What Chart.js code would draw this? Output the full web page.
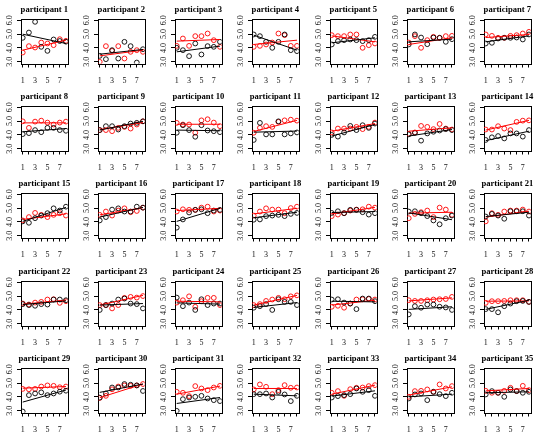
<!DOCTYPE html>
<html><head><meta charset="utf-8">
<script src="https://cdn.jsdelivr.net/npm/chart.js@4"></script>
<style>
html,body{margin:0;padding:0;background:#fff;width:540px;height:435px;overflow:hidden}
#wrap{position:relative;width:540px;height:435px}
#wrap canvas{position:absolute}
</style></head><body><div id="wrap"></div>
<script>
const participants = ['participant 1','participant 2','participant 3','participant 4','participant 5','participant 6','participant 7',
'participant 8','participant 9','participant 10','participant 11','participant 12','participant 13','participant 14',
'participant 15','participant 16','participant 17','participant 18','participant 19','participant 20','participant 21',
'participant 22','participant 23','participant 24','participant 25','participant 26','participant 27','participant 28',
'participant 29','participant 30','participant 31','participant 32','participant 33','participant 34','participant 35'];
const times = [1,2,3,4,5,6,7,8];
const xTickLabels = ['1','','3','','5','','7',''];
const yTickValues = [3,4,5,6];
const yTickLabels = ['3.0','4.0','5.0','6.0'];

const blackValues = [
[4.73,5.11,5.88,4.08,3.79,4.61,4.5,4.45],
[3.43,3.19,3.84,3.24,4.44,4.13,2.95,3.91],
[4.01,3.84,3.41,4.32,3.53,4.13,4.08,4.44],
[4.97,4.85,4.44,4.01,4.44,4.97,3.84,3.77],
[4.25,4.49,4.56,4.61,4.56,4.49,4.56,4.8],
[4.25,4.97,4.75,4.27,4.75,4.73,4.44,4.63],
[4.32,4.37,4.68,4.73,4.73,4.75,4.61,4.97],
[4.06,4.13,4.35,4.2,4.51,4.51,4.35,4.3],
[4.35,4.63,4.63,4.39,4.63,4.82,4.87,4.98],
[4.16,4.7,4.35,3.87,4.7,4.32,4.27,4.2],
[3.64,4.87,4.04,4.04,4.98,4.04,4.11,4.18],
[4.0,3.88,4.18,4.65,4.35,4.7,4.51,4.82],
[4.04,4.15,3.59,4.11,4.23,4.32,4.42,4.35],
[3.64,3.83,3.92,3.75,4.11,4.11,3.88,4.35],
[4.04,3.94,4.27,4.46,4.63,4.98,4.82,5.1],
[4.11,4.35,4.89,4.98,4.75,4.75,5.1,5.03],
[3.59,4.18,4.68,4.87,4.91,4.63,4.82,4.87],
[4.16,4.18,4.42,4.46,4.51,4.42,4.58,4.65],
[4.65,4.77,4.63,4.87,4.87,4.7,4.53,4.63],
[4.75,4.77,4.63,4.42,4.11,3.83,4.27,4.46],
[4.39,4.58,4.46,4.23,4.77,4.77,4.77,4.46],
[4.42,4.35,4.3,4.42,4.39,4.75,4.75,4.7],
[4.0,4.35,4.46,4.75,4.82,4.46,4.42,4.11],
[4.89,4.27,4.53,4.0,4.77,4.35,4.46,4.46],
[4.16,4.27,4.42,4.0,4.77,4.58,4.58,4.35],
[4.75,4.77,4.53,4.46,4.06,4.82,4.82,4.63],
[3.68,4.27,4.16,4.39,4.39,4.23,4.18,4.0],
[4.06,4.06,3.83,4.27,4.46,4.63,4.65,4.58],
[2.95,4.13,4.25,4.33,4.13,4.25,4.38,4.45],
[3.95,4.25,4.68,4.68,4.93,4.88,4.83,4.43],
[3.0,3.84,3.96,4.01,4.08,3.89,3.77,3.7],
[4.2,4.2,4.25,3.96,4.37,4.18,3.7,4.08],
[3.96,4.06,4.13,4.2,4.61,4.37,4.49,4.08],
[3.89,4.18,4.25,3.77,4.37,4.2,4.06,4.3],
[4.18,4.42,4.3,4.01,4.54,4.42,4.3,4.37]
];
const redValues = [
[3.67,4.13,4.03,4.39,4.32,4.2,4.63,4.51],
[3.0,4.13,3.79,4.13,3.24,3.72,3.84,3.72],
[4.15,4.68,4.15,4.85,4.85,5.04,4.56,4.08],
[4.08,4.15,4.25,4.39,5.04,4.92,4.15,4.15],
[4.92,4.85,4.85,4.97,4.97,4.01,4.2,4.32],
[4.39,4.85,4.01,4.56,4.8,4.73,4.85,4.87],
[4.97,4.87,4.73,4.73,4.87,4.92,5.04,5.16],
[4.98,4.51,4.96,5.03,4.89,4.75,4.89,4.96],
[4.35,4.35,4.27,4.51,4.58,4.46,4.75,4.98],
[4.87,4.75,4.75,4.16,5.05,5.13,4.89,4.63],
[4.16,4.51,4.63,4.58,4.94,5.05,5.1,5.03],
[4.18,4.46,4.46,4.46,4.58,4.42,4.58,4.89],
[4.08,4.18,4.65,4.58,4.42,4.79,4.46,4.39],
[4.39,4.39,4.63,4.46,4.35,4.94,5.03,5.05],
[4.11,4.35,4.65,4.51,4.35,4.51,4.63,4.46],
[4.51,4.75,4.46,4.82,4.98,4.7,4.79,5.03],
[4.75,4.91,4.87,4.87,5.03,5.1,4.75,4.82],
[4.46,4.75,4.98,4.89,4.89,4.63,5.0,5.1],
[4.42,4.53,4.63,4.82,4.89,4.91,5.1,5.03],
[4.27,4.58,4.7,4.82,4.35,5.03,4.89,4.51],
[4.04,4.63,4.51,4.75,4.82,4.82,4.89,4.75],
[4.46,4.39,4.53,4.58,4.75,4.77,4.51,4.63],
[4.35,4.35,4.11,4.35,4.87,4.94,4.89,5.0],
[4.53,4.7,4.98,4.23,4.63,4.87,4.87,4.35],
[4.35,4.42,4.65,4.75,4.87,4.77,4.98,5.05],
[4.23,4.3,4.16,4.46,4.75,4.77,4.79,4.75],
[4.7,4.65,4.65,4.7,4.75,4.77,4.79,4.94],
[4.51,4.63,4.63,4.65,4.7,4.7,4.7,4.58],
[4.58,4.55,4.58,4.75,4.83,4.8,4.7,4.75],
[3.93,4.08,4.55,4.75,4.83,4.8,4.83,4.93],
[4.37,4.3,4.06,4.78,4.61,4.49,4.68,4.8],
[4.54,4.9,4.73,4.2,4.49,4.85,4.66,4.68],
[4.3,4.42,4.08,4.56,4.66,4.68,4.78,4.85],
[4.01,4.42,4.44,4.54,4.37,4.9,4.61,4.78],
[4.44,4.3,4.3,4.44,4.66,4.42,4.8,4.49]
];
// fitted lines: value at time 1 and time 8
const blackFit = [
[4.99,4.32],[3.55,3.89],[3.72,4.13],[4.92,3.84],[4.37,4.73],[4.44,4.63],[4.44,4.87],
[4.23,4.46],[4.35,4.98],[4.35,4.3],[4.2,4.28],[3.92,4.75],[3.92,4.39],[3.59,4.27],
[4.04,5.05],[4.35,5.05],[4.04,4.98],[4.3,4.7],[4.68,4.75],[4.65,4.16],[4.39,4.7],
[4.39,4.65],[4.35,4.46],[4.51,4.42],[4.18,4.53],[4.63,4.58],[4.04,4.23],[4.04,4.7],
[3.63,4.5],[4.33,4.93],[3.53,3.96],[4.2,4.08],[4.06,4.44],[4.01,4.2],[4.3,4.37]
];
const redFit = [
[3.84,4.56],[3.43,3.84],[4.49,4.61],[4.25,4.56],[4.87,4.44],[4.25,4.73],[4.75,4.97],
[4.87,4.87],[4.39,4.89],[4.77,4.77],[4.25,5.05],[4.27,4.82],[4.27,4.51],[4.35,5.05],
[4.18,4.58],[4.51,5.03],[4.82,4.98],[4.58,4.98],[4.58,5.05],[4.63,4.7],[4.35,4.77],
[4.42,4.7],[4.35,5.05],[4.63,4.58],[4.35,5.05],[4.35,4.7],[4.65,4.87],[4.63,4.65],
[4.63,4.75],[3.95,4.93],[4.2,4.78],[4.61,4.61],[4.2,4.85],[4.13,4.73],[4.44,4.61]
];
const fitTimes = [1,8];

const SERIF = '"Liberation Serif", "Times New Roman", serif';
const BLACK = '#000000';
const RED = '#ff0000';

const boxPlugin = {
  id: 'panelBox',
  beforeDatasetsDraw(chart) {
    const {ctx, chartArea: a} = chart;
    ctx.save();
    ctx.strokeStyle = '#000';
    ctx.lineWidth = 1;
    ctx.strokeRect(Math.round(a.left) + 0.5, Math.round(a.top) + 0.5,
                   Math.round(a.right - a.left), Math.round(a.bottom - a.top));
    ctx.restore();
  },
  afterDraw(chart, args, opts) {
    const {ctx, chartArea: a} = chart;
    ctx.save();
    ctx.font = 'bold 8.6px ' + SERIF;
    ctx.fillStyle = '#000';
    ctx.textAlign = 'center';
    ctx.textBaseline = 'middle';
    ctx.fillText(opts.text, (a.left + a.right) / 2, 10);
    ctx.restore();
  }
};

const wrap = document.getElementById('wrap');
const CW = 78, CH = 87;
participants.forEach((name, i) => {
  const c = i % 7, r = Math.floor(i / 7);
  const cv = document.createElement('canvas');
  cv.width = CW; cv.height = CH;
  cv.style.width = CW + 'px'; cv.style.height = CH + 'px';
  cv.style.left = Math.round(c * 77.14) + 'px';
  cv.style.top = Math.round(r * 87.2) + 'px';
  wrap.appendChild(cv);
  const pts = vals => times.map((t, k) => ({x: t, y: vals[k]}));
  const fit = f => fitTimes.map((t, k) => ({x: t, y: f[k]}));
  new Chart(cv, {
    type: 'scatter',
    data: {
      datasets: [
        {type: 'line', data: fit(blackFit[i]), borderColor: BLACK, borderWidth: 1, pointRadius: 0, fill: false},
        {type: 'line', data: fit(redFit[i]), borderColor: RED, borderWidth: 1, pointRadius: 0, fill: false},
        {data: pts(blackValues[i]), borderColor: BLACK, backgroundColor: 'rgba(0,0,0,0)', pointRadius: 2.4, borderWidth: 0.9, pointStyle: 'circle'},
        {data: pts(redValues[i]), borderColor: RED, backgroundColor: 'rgba(0,0,0,0)', pointRadius: 2.4, borderWidth: 0.9, pointStyle: 'circle'}
      ]
    },
    options: {
      responsive: false,
      animation: false,
      devicePixelRatio: window.devicePixelRatio || 1,
      layout: {padding: {top: 18.5, right: 10.3, bottom: 0, left: 0}},
      plugins: {legend: {display: false}, tooltip: {enabled: false}, title: {display: false}, panelBox: {text: name}},
      scales: {
        x: {
          type: 'linear', min: 0.72, max: 8.28,
          afterBuildTicks: s => { s.ticks = times.map(v => ({value: v})); },
          afterFit: s => { s.height = 23.5; },
          ticks: {autoSkip: false, minRotation: 0, maxRotation: 0, padding: 8.5, color: '#111',
                  font: {family: SERIF, size: 8}, callback: (v, k) => xTickLabels[k]},
          grid: {display: true, drawOnChartArea: false, drawTicks: true, tickLength: 4, color: '#000', lineWidth: 1},
          border: {display: false}
        },
        y: {
          type: 'linear', min: 2.88, max: 6.12,
          afterBuildTicks: s => { s.ticks = yTickValues.map(v => ({value: v})); },
          afterFit: s => { s.width = 21; },
          ticks: {autoSkip: false, minRotation: 90, maxRotation: 90, padding: 2, crossAlign: 'center', color: '#111',
                  font: {family: SERIF, size: 8}, callback: (v, k) => yTickLabels[k]},
          grid: {display: true, drawOnChartArea: false, drawTicks: true, tickLength: 4, color: '#000', lineWidth: 1},
          border: {display: false}
        }
      }
    },
    plugins: [boxPlugin]
  });
});
</script>
</body></html>
